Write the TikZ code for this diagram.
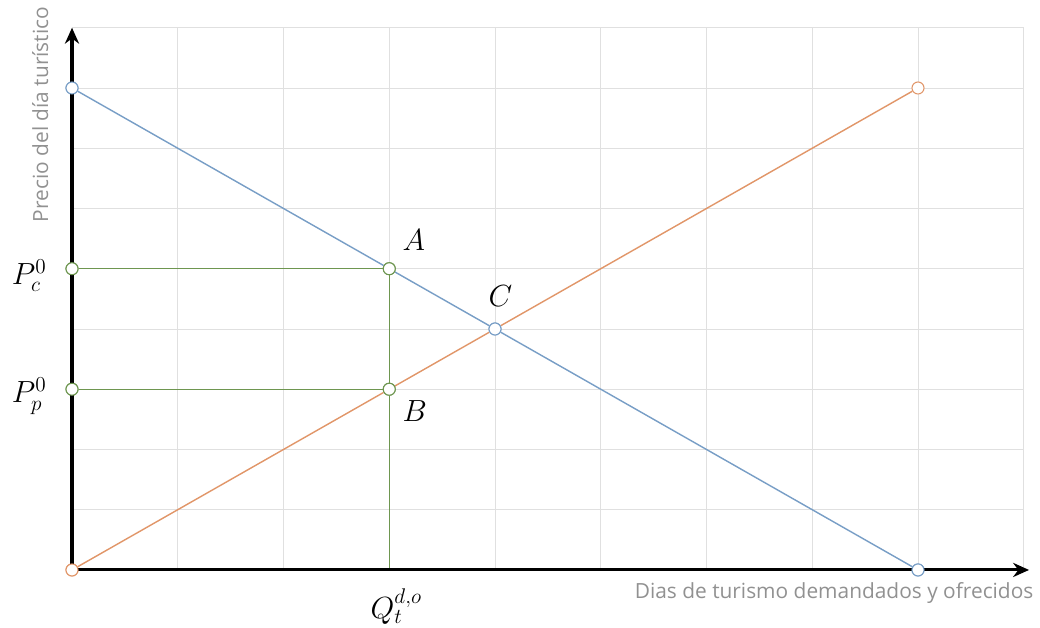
\documentclass[tikz,border=0pt]{standalone}
\usepackage{fontspec}
\newfontfamily\axisfont{Open Sans}
\usepackage{tikz}
\usetikzlibrary{arrows.meta, positioning}
\definecolor{demanda}{RGB}{120,158,198}
\definecolor{oferta}{RGB}{225,150,105}
\definecolor{precio}{RGB}{110,150,80}
\definecolor{rejilla}{RGB}{224,224,224}
\definecolor{rotulo}{RGB}{145,145,145}
\tikzstyle{punto}  = [circle, draw, fill=white, inner sep=0pt, minimum size=6.8pt,
                      line width=0.6pt]
\tikzstyle{pdem}   = [punto, draw=demanda]
\tikzstyle{pofe}   = [punto, draw=oferta]
\tikzstyle{ppre}   = [punto, draw=precio]
\tikzstyle{eje}    = [-{Stealth[length=9pt, width=8pt]}, line width=1.7pt]
\tikzstyle{letra}  = [font=\LARGE]
\tikzstyle{rotulo} = [font=\axisfont\fontsize{11.8}{14}\selectfont, text=rotulo]

\begin{document}
\begin{tikzpicture}[x=2.1cm, y=1.1964cm]
  \useasboundingbox (-0.6809,-0.9627) rectangle (9.1537,9.4606);

  % Grid
  \draw[rejilla, line width=0.5pt, xstep=1, ystep=1] (0,0) grid (9,9);

  % Points
  \coordinate (o) at (0,0);
  \node[pdem] (d0) at (0,8) {};
  \node[pdem] (d1) at (8,0) {};
  \node[pofe] (s0) at (0,0) {};
  \node[pofe] (s1) at (8,8) {};
  \node[pdem] (c)  at (4,4) {};
  \node[ppre] (a)  at (3,5) {};
  \node[ppre] (b)  at (3,3) {};
  \node[ppre] (pc) at (0,5) {};
  \node[ppre] (pp) at (0,3) {};
  \coordinate (q) at (3,0);

  % Curves
  \draw[demanda, line width=0.8pt] (d0) -- (a) -- (c) -- (d1);
  \draw[oferta, line width=0.8pt] (s0) -- (b) -- (c) -- (s1);
  \draw[precio, line width=0.8pt] (pc) -- (a) -- (b) -- (q);
  \draw[precio, line width=0.8pt] (pp) -- (b);
  \node[ppre] at (a) {};
  \node[ppre] at (b) {};
  \node[pdem] at (c) {};

  % Axes
  \draw[eje] (o) -- (0,9);
  \draw[eje] (o) -- (9.05,0);
  \node[pofe] at (s0) {};
  \node[pdem] at (d0) {};
  \node[pdem] at (d1) {};
  \node[ppre] at (pc) {};
  \node[ppre] at (pp) {};

  % Labels
  \node[letra, above right=0.15cm and 0.05cm of a] {$A$};
  \node[letra, below right=0.0cm and 0.05cm of b] {$B$};
  \node[letra, above=0.2cm of c, xshift=3pt] {$C$};
  \node[letra, left=0.25cm of pc, yshift=-4pt] {$P_c^0$};
  \node[letra, left=0.25cm of pp, yshift=-4pt] {$P_p^0$};
  \node[letra, below=0.25cm of q, xshift=4pt] {$Q_t^{d,o}$};
  \node[rotulo, anchor=north east] at (9.15,-0.1) {Dias de turismo demandados y ofrecidos};
  \node[rotulo, rotate=90, anchor=east] at (-0.30,9.45) {Precio del día turístico};
\end{tikzpicture}
\end{document}
